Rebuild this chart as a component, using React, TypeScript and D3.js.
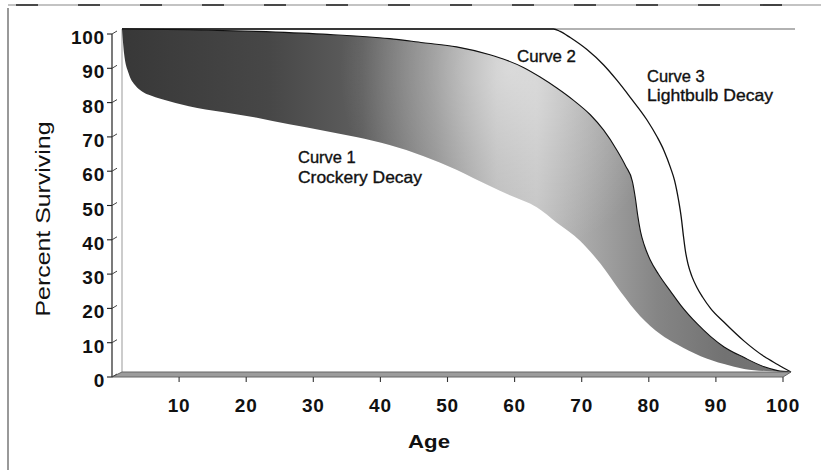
import React from "react";
import { scaleLinear, line, curveMonotoneX } from "d3";

// survival curves (age in years, percent surviving)
const curve1Age = [0, 0.3, 1, 2, 3, 4, 6, 10, 15, 20, 25, 30, 35, 40, 45, 50, 55, 58, 62, 65, 68.5, 71.5, 74.5, 77.5, 80.5, 83, 86.5, 90, 93, 97, 100];
const curve1Pct = [100, 93, 87, 83.5, 81.8, 80.8, 79.5, 77.5, 75.8, 74.2, 72.2, 70.4, 68.5, 66.2, 63, 59, 54.2, 51.5, 48, 43.5, 38.2, 31.6, 23.5, 16.2, 11, 8, 4.6, 2.3, 0.9, 0.2, 0];

const curve2Age = [0, 10, 20, 30, 40, 45, 50, 55, 57.5, 60, 62.5, 65, 67.5, 70, 72, 74, 75.3, 76.3, 76.75, 77.1, 77.5, 78.1, 79, 80.2, 82, 83.5, 86, 88, 90, 93, 96, 98, 100];
const curve2Pct = [100, 99.8, 99.3, 98.5, 97.2, 96, 94.8, 92.5, 90.9, 88.8, 86, 82.8, 79.2, 75, 70.5, 64.6, 60, 55.5, 50.5, 45.5, 41, 36.8, 32.5, 28.5, 23.5, 19.5, 14, 10.3, 7.3, 4.2, 1.5, 0.4, 0];

const curve3Age = [0, 64.5, 65.5, 67, 69.5, 72, 74, 76, 78.5, 80, 81, 82, 82.6, 83.2, 83.6, 83.9, 84.2, 84.6, 85.2, 85.9, 86.8, 88, 90, 93, 96, 98, 100];
const curve3Pct = [100, 100, 99.3, 97.5, 94, 89.5, 85, 80, 73.4, 68.5, 64.6, 59.5, 55.8, 50, 45, 40, 35.5, 31.5, 27.8, 24.8, 21.8, 18.5, 14.5, 9, 4.5, 2.2, 0];

const xTicks = [10, 20, 30, 40, 50, 60, 70, 80, 90, 100];
const yTicks = [0, 10, 20, 30, 40, 50, 60, 70, 80, 90, 100];

const W = 821;
const H = 476;

// back plane (where curves sit) and front axis plane (3d offset)
const x = scaleLinear().domain([0, 100]).range([122, 791]);
const y = scaleLinear().domain([0, 100]).range([372, 29]);
const xFront = scaleLinear().domain([0, 100]).range([112, 783]);
const yFront = scaleLinear().domain([0, 100]).range([377, 34]);

type Pt = [number, number];
const zip = (a: number[], b: number[]): Pt[] => a.map((v, i) => [v, b[i]]);

const pts1 = zip(curve1Age, curve1Pct);
const pts2 = zip(curve2Age, curve2Pct);
const pts3 = zip(curve3Age, curve3Pct);

const gen = line<Pt>()
  .x((d) => x(d[0]))
  .y((d) => y(d[1]))
  .curve(curveMonotoneX);

const font = "'Liberation Sans', Arial, sans-serif";

export default function App() {
  const band = (gen(pts2) || "") + (gen(pts1.slice().reverse()) || "").replace("M", "L") + "Z";

  return (
    <svg width={W} height={H} style={{ position: "absolute", left: 0, top: 0, background: "#fff" }}>
      <defs>
        <linearGradient id="shade" gradientUnits="userSpaceOnUse" x1={x(0)} x2={x(100)} y1={0} y2={0}>
          <stop offset="0" stopColor="#383838" />
          <stop offset="0.22" stopColor="#474747" />
          <stop offset="0.36" stopColor="#5e5e5e" />
          <stop offset="0.47" stopColor="#8a8a8a" />
          <stop offset="0.56" stopColor="#b8b8b8" />
          <stop offset="0.62" stopColor="#c2c2c2" />
          <stop offset="0.72" stopColor="#a0a0a0" />
          <stop offset="0.8" stopColor="#858585" />
          <stop offset="0.9" stopColor="#727272" />
          <stop offset="1" stopColor="#747474" />
        </linearGradient>
        <radialGradient id="glow" gradientUnits="userSpaceOnUse" cx={510} cy={70} r={170}
          gradientTransform="translate(510,70) scale(1,1.1) translate(-510,-70)">
          <stop offset="0" stopColor="#fff" stopOpacity={0.45} />
          <stop offset="0.5" stopColor="#fff" stopOpacity={0.2} />
          <stop offset="1" stopColor="#fff" stopOpacity={0} />
        </radialGradient>
      </defs>

      {/* scanned frame */}
      <line x1={8} x2={8} y1={8} y2={470} stroke="#555" strokeWidth={1.2} />
      <line x1={8} x2={W} y1={5} y2={5} stroke="#888" strokeWidth={1.2} />
      <line x1={8} x2={W} y1={5} y2={5} stroke="#222" strokeWidth={1.6} strokeDasharray="22 40" strokeDashoffset={-70} />

      {/* back wall left edge */}
      <line x1={x(0)} x2={x(0)} y1={y(100)} y2={y(0)} stroke="#999" strokeWidth={1} />

      {/* top 100% line */}
      <line x1={x(0)} x2={x(100) + 4} y1={y(100)} y2={y(100)} stroke="#999" strokeWidth={1.6} />

      {/* curve 3 */}
      <path d={gen(pts3) || ""} fill="none" stroke="#111" strokeWidth={1.3} />

      {/* shaded band between curve 1 and curve 2 */}
      <path d={band} fill="url(#shade)" stroke="none" />
      <path d={band} fill="url(#glow)" stroke="none" />
      <path d={gen(pts2) || ""} fill="none" stroke="#111" strokeWidth={1.1} />

      {/* floor */}
      <path
        d={`M${xFront(0)},${yFront(0)}L${xFront(100)},${yFront(0)}L${x(100)},${y(0)}L${x(0)},${y(0)}Z`}
        fill="#9c9c9c"
        stroke="#666"
        strokeWidth={1}
      />

      {/* y axis */}
      <line x1={xFront(0)} x2={xFront(0)} y1={yFront(100)} y2={yFront(0)} stroke="#222" strokeWidth={1.2} />
      {yTicks.map((t) => (
        <g key={"y" + t}>
          <line x1={xFront(0) - 5} x2={xFront(0)} y1={yFront(t)} y2={yFront(t)} stroke="#222" strokeWidth={1.1} />
          <line x1={xFront(0)} x2={xFront(0) + 5} y1={yFront(t)} y2={yFront(t) - 3} stroke="#444" strokeWidth={1} />
          <text
            x={105}
            y={yFront(t) + 10}
            textAnchor="end"
            fontFamily={font}
            fontWeight="bold"
            fontSize={19}
            letterSpacing={0.8}
            fill="#111"
          >
            {t}
          </text>
        </g>
      ))}

      {/* x axis */}
      {xTicks.map((t) => (
        <g key={"x" + t}>
          <line x1={xFront(t)} x2={xFront(t)} y1={yFront(0)} y2={yFront(0) + 5} stroke="#333" strokeWidth={1.1} />
          <text
            x={xFront(t)}
            y={412}
            textAnchor="middle"
            fontFamily={font}
            fontWeight="bold"
            fontSize={19}
            letterSpacing={0.8}
            fill="#111"
          >
            {t}
          </text>
        </g>
      ))}

      {/* axis titles */}
      <text
        x={429}
        y={448}
        textAnchor="middle"
        fontFamily={font}
        fontWeight="bold"
        fontSize={19}
        textLength={42}
        lengthAdjust="spacingAndGlyphs"
        fill="#111"
      >
        Age
      </text>
      <text
        transform="translate(50,219) rotate(-90)"
        textAnchor="middle"
        fontFamily={font}
        fontSize={21}
        textLength={195}
        lengthAdjust="spacingAndGlyphs"
        fill="#111"
      >
        Percent Surviving
      </text>

      {/* curve labels */}
      <g fontFamily={font} fontSize={16.5} fill="#111" stroke="#111" strokeWidth={0.35}>
        <text x={298} y={163}>Curve 1</text>
        <text x={298} y={183} textLength={124} lengthAdjust="spacingAndGlyphs">Crockery Decay</text>
        <text x={517} y={62} textLength={59} lengthAdjust="spacingAndGlyphs">Curve 2</text>
        <text x={647} y={82}>Curve 3</text>
        <text x={647} y={101} textLength={126} lengthAdjust="spacingAndGlyphs">Lightbulb Decay</text>
      </g>
    </svg>
  );
}
